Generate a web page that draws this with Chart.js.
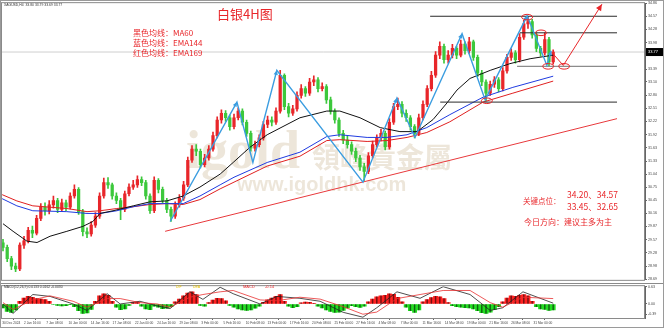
<!DOCTYPE html>
<html>
<head>
<meta charset="utf-8">
<script src="https://cdn.jsdelivr.net/npm/chart.js@4.4.1/dist/chart.umd.min.js"></script>
<style>
  html, body { margin: 0; padding: 0; background: #fff; }
  #wrap { position: relative; width: 664px; height: 328px; overflow: hidden; background: #fff; }
  #main { position: absolute; left: 0; top: 0; }
  #macd { position: absolute; left: 0; top: 283px; }
  #frame { position: absolute; left: 0; top: 0; width: 662px; height: 326px; border: 1px solid #9a9a9a; pointer-events: none; }
</style>
</head>
<body>
<div id="wrap">
  <canvas id="main" width="664" height="283"></canvas>
  <canvas id="macd" width="664" height="45"></canvas>
  <div id="frame"></div>
</div>
<script>
// candles (one per 12h)
const opens = [29.50,29.40,29.15,28.98,28.92,29.45,29.55,29.78,29.72,30.05,
  30.30,30.22,30.35,30.45,30.25,30.40,30.30,30.55,30.70,30.20,
  29.75,29.70,29.90,30.10,30.55,30.85,30.80,30.55,30.45,30.25,
  30.60,30.75,30.80,30.92,30.85,30.55,30.22,30.90,30.70,30.45,
  30.25,30.10,30.35,30.50,30.80,31.35,31.60,31.55,31.25,31.40,
  31.60,31.90,32.25,32.40,32.30,32.10,32.30,32.45,32.20,31.95,
  31.62,31.70,31.85,32.15,32.25,32.20,32.45,33.25,32.55,32.40,
  32.50,32.80,32.95,32.85,33.10,33.15,32.95,33.00,32.70,32.45,
  32.25,31.95,31.80,31.70,31.55,31.40,31.20,31.10,31.45,31.70,
  31.85,31.95,31.65,32.20,32.55,32.60,32.40,32.30,32.10,31.95,
  32.30,32.60,32.95,33.25,33.70,33.90,33.60,33.70,33.85,33.70,
  33.95,33.80,34.00,33.65,33.30,33.10,32.85,33.05,33.15,32.95,
  33.35,33.65,33.75,33.60,34.10,34.40,34.45,34.15,33.85,33.75,
  34.05,33.55];
const highs = [29.58,29.45,29.20,29.05,29.50,29.65,29.85,29.88,30.12,30.38,
  30.40,30.45,30.55,30.50,30.48,30.46,30.62,30.80,30.74,30.25,
  29.84,29.98,30.18,30.62,30.95,30.96,30.84,30.62,30.50,30.66,
  30.82,30.90,31.00,30.98,30.90,30.60,30.98,30.94,30.75,30.50,
  30.30,30.42,30.58,30.88,31.42,31.68,31.70,31.60,31.48,31.68,
  31.98,32.32,32.48,32.46,32.36,32.38,32.52,32.50,32.25,32.00,
  31.78,31.92,32.22,32.34,32.32,32.52,33.36,33.28,32.62,32.58,
  32.88,33.04,33.00,33.18,33.24,33.20,33.08,33.04,32.76,32.50,
  32.30,32.02,31.90,31.76,31.62,31.46,31.28,31.52,31.78,31.92,
  32.04,32.00,32.28,32.62,32.74,32.66,32.48,32.35,32.15,32.38,
  32.68,33.02,33.34,33.78,34.00,33.95,33.80,33.94,33.90,34.04,
  34.00,34.10,34.04,33.70,33.36,33.15,33.12,33.22,33.20,33.42,
  33.72,33.84,33.80,34.18,34.48,34.57,34.50,34.20,33.90,34.20,
  34.10,33.82];
const lows = [29.32,29.08,28.90,28.86,28.88,29.38,29.50,29.62,29.68,30.00,
  30.12,30.15,30.28,30.18,30.20,30.22,30.26,30.50,30.14,29.66,
  29.62,29.65,29.85,30.05,30.50,30.72,30.48,30.38,30.02,30.20,
  30.55,30.70,30.74,30.78,30.48,30.16,30.18,30.62,30.40,30.18,
  29.98,30.05,30.30,30.45,30.76,31.30,31.45,31.18,31.20,31.35,
  31.55,31.85,32.18,32.22,32.02,32.05,32.25,32.14,31.88,31.55,
  31.55,31.65,31.80,32.08,32.12,32.15,32.40,32.48,32.32,32.35,
  32.45,32.74,32.78,32.80,33.02,32.88,32.90,32.62,32.38,32.18,
  31.88,31.72,31.62,31.48,31.32,31.12,30.90,31.05,31.40,31.64,
  31.78,31.58,31.60,32.15,32.48,32.32,32.22,32.02,31.85,31.90,
  32.25,32.55,32.90,33.20,33.62,33.52,33.52,33.64,33.62,33.66,
  33.72,33.74,33.58,33.22,33.02,32.68,32.80,32.98,32.88,32.90,
  33.30,33.58,33.52,33.55,34.05,34.30,34.08,33.78,33.68,33.70,
  33.45,33.50];
const closes = [29.40,29.15,28.98,28.92,29.45,29.55,29.78,29.72,30.05,30.30,
  30.22,30.35,30.45,30.25,30.40,30.30,30.55,30.70,30.20,29.75,
  29.70,29.90,30.10,30.55,30.85,30.80,30.55,30.45,30.25,30.60,
  30.75,30.80,30.92,30.85,30.55,30.22,30.90,30.70,30.45,30.25,
  30.10,30.35,30.50,30.80,31.35,31.60,31.55,31.25,31.40,31.60,
  31.90,32.25,32.40,32.30,32.10,32.30,32.45,32.20,31.95,31.62,
  31.70,31.85,32.15,32.25,32.20,32.45,33.25,32.55,32.40,32.50,
  32.80,32.95,32.85,33.10,33.15,32.95,33.00,32.70,32.45,32.25,
  31.95,31.80,31.70,31.55,31.40,31.20,31.10,31.45,31.70,31.85,
  31.95,31.65,32.20,32.55,32.60,32.40,32.30,32.10,31.95,32.30,
  32.60,32.95,33.25,33.70,33.90,33.60,33.70,33.85,33.70,33.95,
  33.80,34.00,33.65,33.30,33.10,32.85,33.05,33.15,32.95,33.35,
  33.65,33.75,33.60,34.10,34.40,34.45,34.15,33.85,33.75,34.05,
  33.55,33.77];

// moving averages, sampled along the bar index
const ma60Bars = [0,2.4,5.7,8.1,11.2,15.2,19.0,21.4,23.1,26.2,31.0,35.0,39.0,42.9,46.9,
  51.7,54.8,58.8,62.9,70.7,77.1,80.2,85.0,89.8,94.5,98.6,102.4,105.7,108.1,111.2,116.0,120.7,125.5,131.0];
const ma60 = [29.93,29.76,29.54,29.51,29.65,29.76,29.87,29.98,30.16,30.22,30.33,30.42,30.44,30.55,30.75,
  31.04,31.30,31.64,31.92,32.30,32.45,32.45,32.30,32.08,31.99,31.99,32.26,32.63,32.92,33.18,33.36,33.51,33.62,33.70];
const emaBars = [-0.2,3.3,7.1,15.2,20.0,23.1,27.1,31.0,35.0,39.0,42.9,46.9,51.7,55.0,62.9,
  70.7,77.1,80.2,86.7,91.4,96.2,100.9,106.4,114.3,121.4,131.0];
const ema144 = [30.49,30.33,30.22,30.20,30.16,30.16,30.22,30.31,30.38,30.38,30.38,30.55,30.80,30.97,31.30,
  31.53,31.88,31.92,31.86,31.86,31.92,32.08,32.37,32.76,32.98,33.23];
const ema169 = [30.58,30.44,30.33,30.27,30.20,30.22,30.27,30.31,30.36,30.38,30.36,30.47,30.71,30.86,31.22,
  31.44,31.79,31.81,31.77,31.79,31.86,31.97,32.21,32.65,32.85,33.12];

// MACD panel
const macdHist = [-0.15,-0.28,-0.31,-0.22,0.10,0.22,0.28,0.25,0.20,0.18,
  0.16,0.10,-0.02,-0.05,-0.07,-0.06,-0.03,-0.10,-0.25,-0.35,
  -0.33,-0.20,0.10,0.30,0.38,0.32,0.10,-0.12,-0.21,-0.18,
  -0.05,0.05,0.07,-0.08,-0.18,-0.21,-0.08,-0.12,-0.17,-0.16,
  -0.10,0.08,0.18,0.30,0.40,0.45,0.35,-0.05,-0.08,0.05,
  0.14,0.21,0.20,0.12,-0.05,-0.12,-0.18,-0.22,-0.24,-0.22,
  -0.16,-0.08,0.06,0.15,0.22,0.28,0.35,0.10,-0.08,-0.14,
  -0.10,0.04,0.07,0.06,0.02,-0.08,-0.15,-0.22,-0.28,-0.31,
  -0.30,-0.24,-0.15,-0.06,-0.10,-0.13,-0.08,0.08,0.18,0.26,
  0.30,0.32,0.38,0.36,0.25,0.08,-0.12,-0.25,-0.31,-0.22,
  0.08,0.16,0.24,0.28,0.26,0.20,0.05,-0.06,-0.10,-0.12,
  -0.14,-0.15,-0.18,-0.25,-0.32,-0.35,-0.30,-0.20,-0.10,0.08,
  0.22,0.30,0.28,0.32,0.35,0.30,0.10,-0.10,-0.18,-0.20,
  -0.24,-0.22];
const macdBars = [0,2.4,7.1,11.2,16.7,20.0,24.8,27.9,32.6,36.7,39.8,44.5,47.6,51.7,54.8,
  61.2,65.2,70.7,75.5,81.0,85.7,89.0,93.8,99.3,104.8,111.2,116.0,119.0,123.8,131.0];
const macdDif = [0.00,-0.35,0.35,0.28,0.00,-0.24,0.38,0.00,0.10,-0.07,-0.17,0.45,0.17,0.62,0.38,
  0.00,0.28,0.21,0.10,-0.31,-0.49,-0.14,0.45,0.21,0.64,0.35,-0.24,-0.14,0.45,0.03];
const macdDea = [0.05,-0.20,0.15,0.30,0.10,-0.12,0.20,0.20,0.05,0.00,-0.12,0.25,0.35,0.45,0.50,
  0.15,0.12,0.25,0.18,-0.10,-0.38,-0.30,0.20,0.35,0.50,0.50,0.05,-0.12,0.25,0.20];

// drawn analysis: wave lines, key levels, trend line, projection
const waveBars = [39.8,55.7,59.5,65.2,85.7,93.8,98.1,109.3,114.8,124.8,129.5,130.5];
const wavePrices = [29.98,32.65,31.30,33.36,30.86,32.74,31.86,34.18,32.70,34.58,33.47,33.80];
const projBars = [130.7,133.4,142.6];
const projPrices = [33.76,33.47,34.84];
const trendBars = [38.6,146.2];
const trendPrices = [29.76,32.28];
const levelPrices = [34.57,34.20,33.45,32.65];
const levelStart = [101.7,123.1,122.4,104.1];
const levelEnd = 146.2;
const markBars = [124.8,128.1,129.8,133.6,115.2];
const markPrices = [34.55,34.20,33.45,33.45,32.68];

// axes
const priceTicks = [34.86,34.57,34.28,33.98,33.39,33.10,32.80,32.51,32.22,31.92,31.63,
  31.33,31.04,30.75,30.45,30.16,29.87,29.57,29.28,28.98,28.69];
const macdTicks = [0.63,0.00,-0.39];
const timeTickBars = [-0.2,5.0,10.3,15.6,20.9,26.1,31.4,36.7,42.0,47.2,52.5,57.8,63.0,
  68.3,73.6,78.9,84.1,89.4,94.7,99.9,105.2,110.5,115.8,121.0,126.3];
const timeLabels = ['30 Dec 2024','2 Jan 16:00','7 Jan 08:00','10 Jan 00:00','14 Jan 16:00',
  '17 Jan 08:00','22 Jan 00:00','24 Jan 16:00','29 Jan 08:00','3 Feb 00:00','5 Feb 16:00',
  '10 Feb 08:00','13 Feb 00:00','17 Feb 16:00','20 Feb 08:00','25 Feb 00:00','27 Feb 16:00',
  '4 Mar 08:00','7 Mar 00:00','11 Mar 16:00','14 Mar 08:00','19 Mar 00:00','21 Mar 16:00',
  '26 Mar 08:00','31 Mar 00:00'];

const X_MIN = -0.24, X_MAX = 152.86;
const RED = '#e8262a', GREEN = '#3cc83c';
const idx = closes.map((_, i) => i);
const candleColors = idx.map(i => closes[i] >= opens[i] ? RED : GREEN);
const last = closes[closes.length - 1];

function pts(xs, ys) { return xs.map((x, i) => ({ x: x, y: ys[i] })); }
function seg(data, color, width, order) {
  return { type: 'line', data: data, borderColor: color, borderWidth: width,
    pointRadius: 0, fill: false, tension: 0, order: order };
}
function arrowHead(ctx, x1, y1, x2, y2, size, color) {
  const a = Math.atan2(y2 - y1, x2 - x1);
  ctx.fillStyle = color;
  ctx.beginPath();
  ctx.moveTo(x2, y2);
  ctx.lineTo(x2 - size * Math.cos(a - 0.45), y2 - size * Math.sin(a - 0.45));
  ctx.lineTo(x2 - size * Math.cos(a + 0.45), y2 - size * Math.sin(a + 0.45));
  ctx.closePath();
  ctx.fill();
}

const mainDatasets = [
  seg([{ x: X_MIN, y: last }, { x: X_MAX, y: last }], '#cfcfcf', 1, 20),
  { type: 'bar', data: idx.map(i => ({ x: i, y: [lows[i], highs[i]] })),
    backgroundColor: candleColors, barThickness: 1, grouped: false, order: 12 },
  { type: 'bar', data: idx.map(i => ({ x: i, y: [opens[i], closes[i]] })),
    backgroundColor: candleColors, barThickness: 2.6, grouped: false, order: 11 },
  seg(pts(ma60Bars, ma60), '#111111', 1, 6),
  seg(pts(emaBars, ema144), '#1f3be0', 1, 7),
  seg(pts(emaBars, ema169), '#e02020', 1, 8),
  seg(pts(trendBars, trendPrices), '#e8393c', 1, 3)
];
levelPrices.forEach((p, k) => {
  mainDatasets.push(seg([{ x: levelStart[k], y: p }, { x: levelEnd, y: p }],
    k === 2 ? '#8c8c8c' : '#2a2a2a', k === 2 ? 1.4 : 1, 4));
});
mainDatasets.push(seg(pts(waveBars, wavePrices), '#3b9de0', 1.4, 2));
mainDatasets.push(seg(pts(projBars, projPrices), '#e8262a', 1, 1));

const mainDecor = {
  id: 'mainDecor',
  beforeDatasetsDraw(chart) {
    const ctx = chart.ctx;
    ctx.save();
    ctx.fillStyle = 'rgba(200,178,140,0.32)';
    ctx.font = 'bold 54px "Liberation Serif"';
    ctx.fillText('igold', 186, 168);
    ctx.font = 'bold 28px "Noto Sans CJK TC"';
    ctx.fillText('領峰貴金屬', 312, 168);
    ctx.font = 'bold 20px "Liberation Sans"';
    ctx.fillText('www.igoldhk.com', 237, 191);
    ctx.restore();
  },
  afterDatasetsDraw(chart) {
    const ctx = chart.ctx, xs = chart.scales.x, ys = chart.scales.y;
    ctx.save();
    for (let k = 1; k < waveBars.length; k++) {
      if (wavePrices[k] > wavePrices[k - 1]) {
        arrowHead(ctx, xs.getPixelForValue(waveBars[k - 1]), ys.getPixelForValue(wavePrices[k - 1]),
          xs.getPixelForValue(waveBars[k]), ys.getPixelForValue(wavePrices[k]), 5, '#3b9de0');
      }
    }
    const n = projBars.length - 1;
    arrowHead(ctx, xs.getPixelForValue(projBars[n - 1]), ys.getPixelForValue(projPrices[n - 1]),
      xs.getPixelForValue(projBars[n]), ys.getPixelForValue(projPrices[n]), 7, RED);
    ctx.strokeStyle = RED;
    ctx.lineWidth = 1;
    markBars.forEach((b, k) => {
      ctx.beginPath();
      ctx.ellipse(xs.getPixelForValue(b), ys.getPixelForValue(markPrices[k]), 5.5, 2.8, 0, 0, Math.PI * 2);
      ctx.stroke();
    });
    ctx.fillStyle = RED;
    ctx.font = '13px "Noto Sans CJK SC"';
    ctx.fillText('白银4H图', 217, 19);
    ctx.font = '8px "Noto Sans CJK SC"';
    ctx.fillText('黑色均线：MA60', 133, 35.5);
    ctx.fillText('蓝色均线：EMA144', 133, 46);
    ctx.fillText('红色均线：EMA169', 133, 56);
    ctx.font = '7.5px "Noto Sans CJK SC"';
    ctx.fillText('关键点位：', 523, 204);
    ctx.font = '8.5px "Noto Sans CJK SC"';
    ctx.fillText('34.20、34.57', 567, 198);
    ctx.fillText('33.45、32.65', 567, 210);
    ctx.font = '8px "Noto Sans CJK SC"';
    ctx.fillText('今日方向：建议主多为主', 524, 225);
    ctx.restore();
  },
  afterDraw(chart) {
    const ctx = chart.ctx, a = chart.chartArea;
    ctx.save();
    ctx.strokeStyle = '#8a8a8a';
    ctx.lineWidth = 1;
    ctx.strokeRect(a.left - 0.5, a.top - 0.5, a.right - a.left, a.bottom - a.top + 1);
    ctx.fillStyle = '#333';
    ctx.font = '3.4px "Liberation Sans"';
    ctx.fillText('XAGUSD,H4  33.80 33.79 33.69 33.77', 4, 6);
    const y = chart.scales.y.getPixelForValue(last);
    ctx.fillStyle = '#000';
    ctx.fillRect(646, y - 4, 18, 8);
    ctx.fillStyle = '#fff';
    ctx.font = '4px "Liberation Sans"';
    ctx.textBaseline = 'middle';
    ctx.fillText(last.toFixed(2), 648, y);
    ctx.restore();
  }
};

new Chart(document.getElementById('main'), {
  type: 'bar',
  data: { datasets: mainDatasets },
  options: {
    responsive: false, animation: false, devicePixelRatio: 1,
    layout: { padding: { left: 2, top: 2, right: 0, bottom: 1 } },
    plugins: { legend: { display: false }, tooltip: { enabled: false } },
    scales: {
      x: { type: 'linear', min: X_MIN, max: X_MAX, offset: false, display: false },
      y: {
        type: 'linear', position: 'right', min: 28.675, max: 34.863, bounds: 'data', beginAtZero: false,
        afterFit: s => { s.width = 19; },
        afterBuildTicks: s => { s.ticks = priceTicks.map(v => ({ value: v })); },
        ticks: { font: { family: 'Liberation Sans', size: 3.6 }, color: '#444', padding: 1,
          callback: v => Number(v).toFixed(2) },
        grid: { drawOnChartArea: false, tickLength: 2, color: '#666' },
        border: { display: true, color: '#666' }
      }
    }
  },
  plugins: [mainDecor]
});

const macdDecor = {
  id: 'macdDecor',
  afterDraw(chart) {
    const ctx = chart.ctx, a = chart.chartArea;
    ctx.save();
    ctx.strokeStyle = '#8a8a8a';
    ctx.lineWidth = 1;
    ctx.strokeRect(a.left - 0.5, a.top - 0.5, a.right - a.left, a.bottom - a.top + 1);
    ctx.beginPath();
    ctx.moveTo(0, 0.5); ctx.lineTo(664, 0.5);
    ctx.stroke();
    ctx.font = '3.4px "Liberation Sans"';
    ctx.fillStyle = '#333';
    ctx.fillText('MACD(12,26,9) 0.0133 0.0162 -0.0030', 4, 5);
    ctx.fillStyle = '#e6c200';
    ctx.fillText('DIF', 176, 4.5);
    ctx.fillText('DEA', 193, 4.5);
    ctx.fillStyle = RED;
    ctx.font = '4px "Liberation Sans"';
    ctx.fillText('MACD', 243, 5);
    ctx.fillText('-0.14', 265, 5);
    ctx.restore();
  }
};

new Chart(document.getElementById('macd'), {
  type: 'bar',
  data: {
    datasets: [
      { type: 'bar', data: idx.map(i => ({ x: i, y: macdHist[i] })),
        backgroundColor: macdHist.map(v => v >= 0 ? '#ff2222' : '#22dd22'),
        barThickness: 4.2, grouped: false, order: 5 },
      { type: 'bar', data: idx.map(i => ({ x: i, y: macdHist[i] })),
        backgroundColor: 'rgba(0,0,0,0.55)', barThickness: 0.8, grouped: false, order: 4 },
      seg(pts(macdBars, macdDif), '#222222', 0.8, 2),
      seg(pts(macdBars, macdDea), '#e83030', 0.8, 1)
    ]
  },
  options: {
    responsive: false, animation: false, devicePixelRatio: 1,
    layout: { padding: { left: 2, top: 1, right: 0, bottom: 0 } },
    plugins: { legend: { display: false }, tooltip: { enabled: false } },
    scales: {
      x: {
        type: 'linear', min: X_MIN, max: X_MAX, offset: false,
        afterFit: s => { s.height = 10; },
        afterBuildTicks: s => { s.ticks = timeTickBars.map(v => ({ value: v })); },
        ticks: { font: { family: 'Liberation Sans', size: 3.2 }, color: '#444', align: 'start',
          autoSkip: false, maxRotation: 0, minRotation: 0, padding: 1,
          callback: (v, i) => timeLabels[i] },
        grid: { drawOnChartArea: false, tickLength: 2, color: '#666' },
        border: { display: true, color: '#666' }
      },
      y: {
        type: 'linear', position: 'right', min: -0.52, max: 0.66, bounds: 'data', beginAtZero: false,
        afterFit: s => { s.width = 19; },
        afterBuildTicks: s => { s.ticks = macdTicks.map(v => ({ value: v })); },
        ticks: { font: { family: 'Liberation Sans', size: 3.6 }, color: '#444', padding: 1,
          callback: v => Number(v).toFixed(2) },
        grid: { drawOnChartArea: false, tickLength: 2, color: '#666' },
        border: { display: true, color: '#666' }
      }
    }
  },
  plugins: [macdDecor]
});
</script>
</body>
</html>
